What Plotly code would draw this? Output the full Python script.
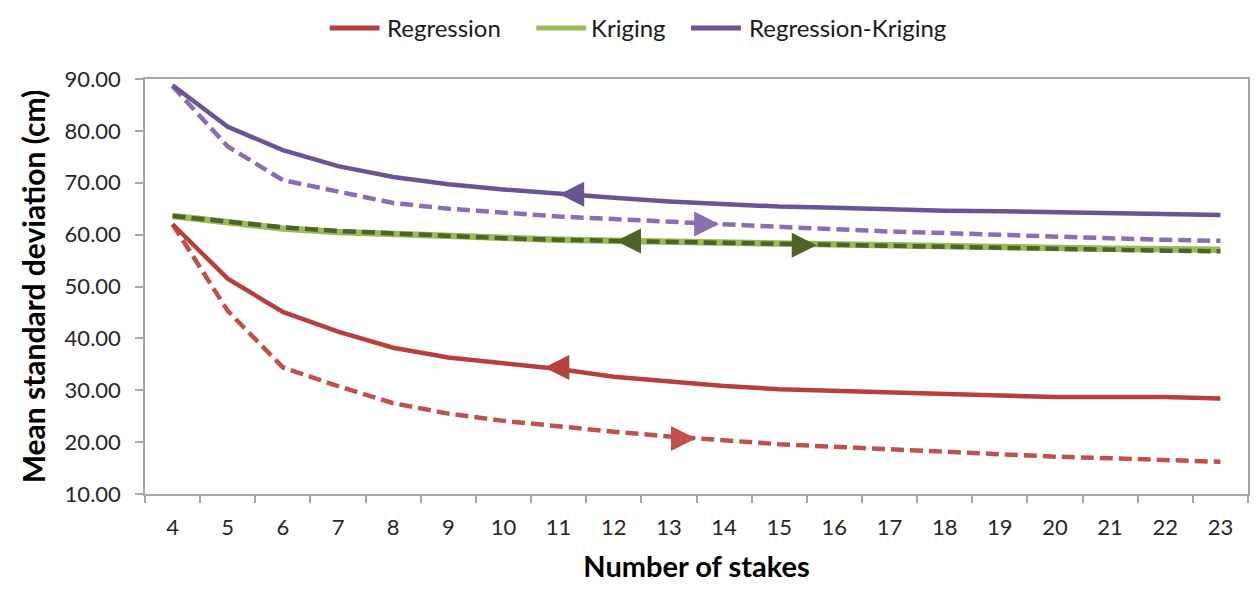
import numpy as np
import plotly.graph_objects as go

stakes = list(range(4, 24))
regression_solid = [62.0, 51.5, 45.1, 41.3, 38.2, 36.3, 35.2, 34.1, 32.6, 31.6,
                    30.8, 30.2, 29.9, 29.5, 29.2, 28.9, 28.7, 28.7, 28.7, 28.4]
regression_dash = [62.0, 45.3, 34.4, 30.8, 27.5, 25.5, 24.1, 23.0, 22.0, 21.1,
                   20.3, 19.6, 19.1, 18.6, 18.1, 17.6, 17.2, 16.9, 16.5, 16.2]
kriging_solid = [63.6, 62.3, 61.2, 60.5, 60.1, 59.6, 59.2, 59.0, 58.8, 58.6,
                 58.4, 58.2, 58.0, 57.8, 57.7, 57.5, 57.4, 57.3, 57.2, 57.1]
kriging_dash = [63.6, 62.4, 61.4, 60.7, 60.2, 59.7, 59.3, 59.0, 58.8, 58.5,
                58.3, 58.1, 57.9, 57.7, 57.5, 57.3, 57.2, 57.0, 56.9, 56.8]
rk_solid = [88.8, 80.8, 76.3, 73.2, 71.1, 69.7, 68.7, 67.8, 67.1, 66.4,
            65.9, 65.4, 65.2, 64.8, 64.6, 64.5, 64.3, 64.0, 63.8, 63.8]
rk_dash = [88.6, 77.0, 70.5, 68.3, 66.1, 65.0, 64.2, 63.5, 63.0, 62.6,
           62.0, 61.5, 61.0, 60.6, 60.3, 59.9, 59.6, 59.3, 59.0, 58.8]

names = ["Regression", "Kriging", "Regression-Kriging"]

RED_S, RED_D = "#B5403D", "#C0504D"
GRN_S, GRN_D = "#9BBB59", "#4F6228"
PUR_S, PUR_D = "#6B5496", "#8A6DB2"
DASH = "13px,6px"
FONT = "Lato"
AX = "#A6A6A6"

# page body adds an 8px offset; layout is sized to sit inside the window
W, H = 1250, 584
L, R, T, B = 137, 8, 71, 98
PW, PH = W - L - R, H - T - B
OFF = 8


def px_x(p):
    return (p - OFF - L) / PW


def px_y(p):
    return 1 - (p - OFF - T) / PH


fig = go.Figure()

fig.add_trace(go.Scatter(x=stakes, y=regression_dash, mode="lines", showlegend=False,
                         line=dict(color=RED_D, width=4.5, dash=DASH), hoverinfo="skip"))
fig.add_trace(go.Scatter(x=stakes, y=rk_dash, mode="lines", showlegend=False,
                         line=dict(color=PUR_D, width=4.5, dash=DASH), hoverinfo="skip"))
fig.add_trace(go.Scatter(x=stakes, y=regression_solid, mode="lines", name=names[0],
                         showlegend=False, line=dict(color=RED_S, width=4.5)))
fig.add_trace(go.Scatter(x=stakes, y=kriging_solid, mode="lines", name=names[1],
                         showlegend=False, line=dict(color=GRN_S, width=6.5)))
fig.add_trace(go.Scatter(x=stakes, y=rk_solid, mode="lines", name=names[2],
                         showlegend=False, line=dict(color=PUR_S, width=4.5)))
fig.add_trace(go.Scatter(x=stakes, y=kriging_dash, mode="lines", showlegend=False,
                         line=dict(color=GRN_D, width=4.5, dash=DASH), hoverinfo="skip"))

# direction arrows (tip position along each series)
arrows = [
    (regression_solid, 10.74, "arrow-left", RED_S),
    (regression_dash, 13.49, "arrow-right", RED_D),
    (rk_solid, 11.01, "arrow-left", PUR_S),
    (rk_dash, 13.91, "arrow-right", PUR_D),
    (kriging_dash, 12.04, "arrow-left", GRN_D),
    (kriging_dash, 15.68, "arrow-right", GRN_D),
]
for series, pos, sym, col in arrows:
    fig.add_trace(go.Scatter(x=[pos], y=[float(np.interp(pos, stakes, series))],
                             mode="markers", showlegend=False, hoverinfo="skip",
                             marker=dict(symbol=sym, size=25, color=col,
                                         line=dict(width=0))))

# legend drawn as line samples + text
legend_items = [(names[0], RED_S, 330, 385), (names[1], GRN_S, 537, 590),
                (names[2], PUR_S, 692, 748)]
shapes, annotations = [], []
for name, col, x0, tx in legend_items:
    shapes.append(dict(type="line", xref="paper", yref="paper",
                       x0=px_x(x0), x1=px_x(x0 + 50), y0=px_y(28), y1=px_y(28),
                       line=dict(color=col, width=5)))
    annotations.append(dict(text=name, xref="paper", yref="paper", x=px_x(tx),
                            y=px_y(28), xanchor="left", yanchor="middle",
                            showarrow=False, font=dict(size=24, color="#1a1a1a")))

fig.update_layout(
    width=W, height=H,
    margin=dict(l=L, r=R, t=T, b=B),
    paper_bgcolor="white", plot_bgcolor="white",
    font=dict(family=FONT, size=22, color="#262626"),
    showlegend=False,
    shapes=shapes, annotations=annotations,
    xaxis=dict(range=[3.5, 23.5], tickvals=stakes, ticktext=[str(s) for s in stakes],
               ticks="", showgrid=False, zeroline=False,
               showline=True, linecolor=AX, linewidth=1.5, mirror=True,
               ticklabelstandoff=13,
               minor=dict(tickvals=[s - 0.5 for s in stakes] + [23.5], ticks="outside",
                          ticklen=7, tickcolor=AX, tickwidth=1.5, showgrid=False),
               title=dict(text="<b>Number of stakes</b>", font=dict(size=29, color="#000"),
                          standoff=18)),
    yaxis=dict(range=[10, 90], dtick=10, tickformat=".2f", ticks="outside",
               ticklen=8, tickcolor=AX, tickwidth=1.5, showgrid=False, zeroline=False,
               showline=True, linecolor=AX, linewidth=1.5, mirror=True,
               ticklabelstandoff=10,
               title=dict(text="<b>Mean standard deviation (cm)</b>",
                          font=dict(size=30, color="#000"), standoff=10)),
)

fig.write_html("out.html")
